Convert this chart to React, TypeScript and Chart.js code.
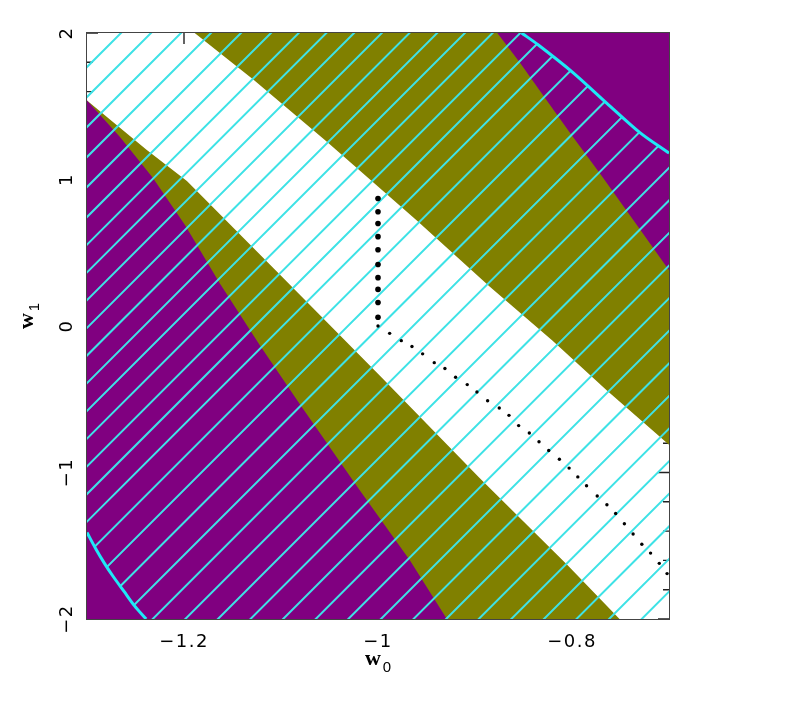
import React, { useEffect, useRef } from 'react';
import { Chart, registerables } from 'chart.js';

Chart.register(...registerables);

// Axis ranges
const W0_MIN = -1.3;
const W0_MAX = -0.7;
const W1_MIN = -2;
const W1_MAX = 2;

// Tick values and labels
const xTickValues = [-1.2, -1.0, -0.8];
const xTickLabels = ['−1.2', '−1', '−0.8'];
const yTickValues = [-2, -1, 0, 1, 2];
const yTickLabels = ['−2', '−1', '0', '1', '2'];
const yMinorTickValues = [-1.8, -1.6, -1.4, -1.2, -0.8, -0.6, -0.4, -0.2, 0.2, 0.4, 0.6, 0.8, 1.2, 1.4, 1.6, 1.8];

// Region boundaries (w0, w1)
const lowerOuterEdgeW0 = [-1.3, -1.266, -1.232, -1.199, -1.163, -1.122, -1.08, -1.019, -0.967, -0.929];
const lowerOuterEdgeW1 = [1.54, 1.29, 1.01, 0.69, 0.29, -0.13, -0.54, -1.12, -1.6, -2.0];
const lowerInnerEdgeW0 = [-1.3, -1.238, -1.197, -1.101, -0.998, -0.895, -0.805, -0.751];
const lowerInnerEdgeW1 = [1.54, 1.2, 0.99, 0.35, -0.34, -1.04, -1.63, -2.0];
const upperInnerEdgeW0 = [-1.189, -1.128, -1.053, -0.96, -0.885, -0.82, -0.764, -0.7];
const upperInnerEdgeW1 = [2.0, 1.68, 1.26, 0.72, 0.27, -0.1, -0.44, -0.81];
const upperOuterEdgeW0 = [-0.877, -0.854, -0.826, -0.799, -0.771, -0.73, -0.7];
const upperOuterEdgeW1 = [2.0, 1.8, 1.54, 1.29, 1.04, 0.66, 0.38];

// Cyan contour (two visible pieces)
const contourUpperW0 = [-0.852, -0.835, -0.799, -0.764, -0.73, -0.7];
const contourUpperW1 = [2.0, 1.92, 1.73, 1.52, 1.32, 1.18];
const contourLowerW0 = [-1.3, -1.291, -1.282, -1.273, -1.262, -1.251, -1.239];
const contourLowerW1 = [-1.41, -1.52, -1.62, -1.71, -1.81, -1.91, -2.0];

// Dotted path
const pathCoarseW0 = [-1.0, -1.0, -1.0, -1.0, -1.0, -1.0, -1.0, -1.0, -1.0, -1.0];
const pathCoarseW1 = [0.87, 0.78, 0.7, 0.61, 0.52, 0.42, 0.33, 0.25, 0.16, 0.06];
const pathFineW0 = [-1.0, -0.988, -0.976, -0.965, -0.954, -0.942, -0.931, -0.92, -0.908, -0.898,
  -0.887, -0.875, -0.865, -0.855, -0.844, -0.834, -0.824, -0.813, -0.803, -0.794,
  -0.785, -0.774, -0.764, -0.755, -0.746, -0.737, -0.728, -0.719, -0.71, -0.702];
const pathFineW1 = [0.0, -0.05, -0.1, -0.14, -0.19, -0.25, -0.29, -0.35, -0.4, -0.45,
  -0.51, -0.56, -0.61, -0.68, -0.73, -0.79, -0.85, -0.91, -0.97, -1.03,
  -1.09, -1.16, -1.22, -1.28, -1.35, -1.42, -1.49, -1.55, -1.62, -1.69];

const PURPLE = '#800080';
const OLIVE = '#808000';
const HATCH_COLOR = '#3ee2e6';
const CONTOUR_COLOR = '#1de9f6';

const zip = (a: number[], b: number[]) => a.map((x, i) => ({ x, y: b[i] }));

const decorPlugin = {
  id: 'decor',
  beforeDatasetsDraw(chart: any) {
    const { ctx, chartArea: a } = chart;
    const xs = chart.scales.x;
    const ys = chart.scales.y;
    ctx.save();
    ctx.strokeStyle = '#222';
    ctx.lineWidth = 1.4;
    ctx.beginPath();
    yTickValues.forEach((v) => {
      const p = ys.getPixelForValue(v);
      ctx.moveTo(a.left, p); ctx.lineTo(a.left + 11, p);
      ctx.moveTo(a.right, p); ctx.lineTo(a.right - 11, p);
    });
    yMinorTickValues.forEach((v) => {
      const p = ys.getPixelForValue(v);
      ctx.moveTo(a.left, p); ctx.lineTo(a.left + 6, p);
      ctx.moveTo(a.right, p); ctx.lineTo(a.right - 6, p);
    });
    xTickValues.forEach((v) => {
      const p = xs.getPixelForValue(v);
      ctx.moveTo(p, a.top); ctx.lineTo(p, a.top + 11);
      ctx.moveTo(p, a.bottom); ctx.lineTo(p, a.bottom - 11);
    });
    ctx.stroke();
    ctx.restore();
  },
  afterDatasetDraw(chart: any, args: any) {
    const ds = chart.data.datasets[args.index];
    if (ds.label !== 'hatch') return;
    const { ctx, chartArea: a } = chart;
    const pts = args.meta.data;
    ctx.save();
    ctx.beginPath();
    ctx.rect(a.left, a.top, a.right - a.left, a.bottom - a.top);
    ctx.clip();
    ctx.beginPath();
    pts.forEach((p: any, i: number) => (i ? ctx.lineTo(p.x, p.y) : ctx.moveTo(p.x, p.y)));
    ctx.closePath();
    ctx.clip();
    ctx.strokeStyle = HATCH_COLOR;
    ctx.lineWidth = 2;
    ctx.beginPath();
    const span = (a.right - a.left) + (a.bottom - a.top);
    let c = 34;
    while (c < span + 10) {
      ctx.moveTo(a.left + c + 800, a.top - 800);
      ctx.lineTo(a.left + c - 1600, a.top + 1600);
      c += c < 180 ? 30 : c < 485 ? 27.7 : 32.6;
    }
    ctx.stroke();
    ctx.restore();
  },
  afterDatasetsDraw(chart: any) {
    const { ctx, chartArea: a } = chart;
    ctx.save();
    ctx.strokeStyle = '#444';
    ctx.lineWidth = 1;
    ctx.strokeRect(a.left - 0.5, a.top - 0.5, a.right - a.left + 1, a.bottom - a.top + 1);
    ctx.restore();
  },
  afterDraw(chart: any) {
    const { ctx, chartArea: a } = chart;
    const xs = chart.scales.x;
    const ys = chart.scales.y;
    ctx.save();
    ctx.fillStyle = '#000';
    ctx.font = '18px "DejaVu Sans"';
    (ctx as any).letterSpacing = '1.5px';
    ctx.textAlign = 'center';
    ctx.textBaseline = 'alphabetic';
    xTickValues.forEach((v, i) => {
      ctx.fillText(xTickLabels[i], xs.getPixelForValue(v), a.bottom + 28);
    });
    yTickValues.forEach((v, i) => {
      ctx.save();
      ctx.translate(a.left - 15, ys.getPixelForValue(v));
      ctx.rotate(-Math.PI / 2);
      ctx.fillText(yTickLabels[i], 0, 0);
      ctx.restore();
    });
    (ctx as any).letterSpacing = '0px';
    // axis titles
    ctx.textAlign = 'left';
    const cx = (a.left + a.right) / 2;
    ctx.font = 'bold 22px "Liberation Serif"';
    const ww = ctx.measureText('w').width;
    ctx.font = '15px "Liberation Sans"';
    const sw = ctx.measureText('0').width;
    const total = ww + 2 + sw;
    ctx.font = 'bold 22px "Liberation Serif"';
    ctx.fillText('w', cx - total / 2, a.bottom + 46);
    ctx.font = '15px "Liberation Sans"';
    ctx.fillText('0', cx - total / 2 + ww + 2, a.bottom + 53);

    ctx.save();
    ctx.translate(33, 316);
    ctx.rotate(-Math.PI / 2);
    ctx.font = 'bold 22px "Liberation Serif"';
    ctx.fillText('w', -total / 2, 0);
    ctx.font = '15px "Liberation Sans"';
    ctx.fillText('1', -total / 2 + ww + 2, 6);
    ctx.restore();
    ctx.restore();
  },
};

export default function App() {
  const ref = useRef<HTMLCanvasElement>(null);
  useEffect(() => {
    const canvas = ref.current!;
    const lowerOlive = [...zip(lowerInnerEdgeW0, lowerInnerEdgeW1), { x: W0_MIN, y: W1_MIN }];
    const lowerPurple = [...zip(lowerOuterEdgeW0, lowerOuterEdgeW1), { x: W0_MIN, y: W1_MIN }];
    const upperOlive = [...zip(upperInnerEdgeW0, upperInnerEdgeW1), { x: W0_MAX, y: W1_MAX }];
    const upperPurple = [...zip(upperOuterEdgeW0, upperOuterEdgeW1), { x: W0_MAX, y: W1_MAX }];
    const hatchRegion = [
      { x: W0_MIN, y: W1_MAX },
      ...zip(contourUpperW0, contourUpperW1),
      { x: W0_MAX, y: W1_MIN },
      ...zip(contourLowerW0, contourLowerW1).reverse(),
    ];
    const region = (label: string, data: any[], color: string, order: number) => ({
      label, data, fill: 'shape', backgroundColor: color, borderColor: 'transparent',
      borderWidth: 0, pointRadius: 0, order, clip: 0,
    });
    const chart = new Chart(canvas, {
      type: 'line',
      data: {
        datasets: [
          region('lowerOlive', lowerOlive, OLIVE, 10),
          region('upperOlive', upperOlive, OLIVE, 10),
          region('lowerPurple', lowerPurple, PURPLE, 9),
          region('upperPurple', upperPurple, PURPLE, 9),
          {
            label: 'hatch', data: hatchRegion, fill: false, borderColor: 'transparent',
            borderWidth: 0, pointRadius: 0, order: 8, clip: 0,
          },
          {
            label: 'contourUpper', data: zip(contourUpperW0, contourUpperW1), fill: false,
            borderColor: CONTOUR_COLOR, borderWidth: 3, pointRadius: 0, tension: 0.3, order: 7, clip: 0,
          },
          {
            label: 'contourLower', data: zip(contourLowerW0, contourLowerW1), fill: false,
            borderColor: CONTOUR_COLOR, borderWidth: 3, pointRadius: 0, tension: 0.3, order: 7, clip: 0,
          },
          {
            label: 'pathCoarse', data: zip(pathCoarseW0, pathCoarseW1), showLine: false,
            pointRadius: 2.8, pointBackgroundColor: '#000', pointBorderWidth: 0,
            borderColor: '#000', order: 6, clip: 0,
          },
          {
            label: 'pathFine', data: zip(pathFineW0, pathFineW1), showLine: false,
            pointRadius: 1.7, pointBackgroundColor: '#000', pointBorderWidth: 0,
            borderColor: '#000', order: 6, clip: 0,
          },
        ] as any,
      },
      options: {
        animation: false,
        responsive: true,
        maintainAspectRatio: false,
        events: [],
        layout: { padding: { left: 87, top: 33, right: 126, bottom: 87 } },
        scales: {
          x: { type: 'linear', min: W0_MIN, max: W0_MAX, display: false },
          y: { type: 'linear', min: W1_MIN, max: W1_MAX, display: false },
        },
        plugins: { legend: { display: false }, tooltip: { enabled: false } },
      } as any,
      plugins: [decorPlugin],
    });
    return () => chart.destroy();
  }, []);
  return (
    <div style={{ position: 'absolute', left: 0, top: 0, width: 795, height: 706 }}>
      <canvas ref={ref} />
    </div>
  );
}
